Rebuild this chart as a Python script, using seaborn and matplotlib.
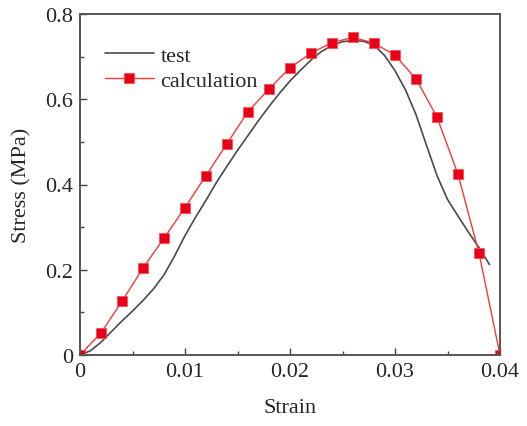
import matplotlib

matplotlib.use("Agg")

import matplotlib.pyplot as plt
import pandas as pd
import seaborn as sns
from matplotlib.ticker import MultipleLocator

test_strain = [0.000, 0.001, 0.002, 0.003, 0.004, 0.005, 0.006, 0.007, 0.008, 0.009,
               0.010, 0.011, 0.012, 0.013, 0.014, 0.015, 0.016, 0.017, 0.018, 0.019,
               0.020, 0.021, 0.022, 0.023, 0.024, 0.025, 0.026, 0.027, 0.028, 0.029,
               0.030, 0.031, 0.032, 0.033, 0.034, 0.035, 0.036, 0.037, 0.038, 0.039]
test_stress = [0.000, 0.010, 0.030, 0.055, 0.080, 0.103, 0.128, 0.155, 0.188, 0.232,
               0.280, 0.323, 0.363, 0.405, 0.443, 0.480, 0.515, 0.550, 0.583, 0.614,
               0.643, 0.668, 0.692, 0.712, 0.726, 0.735, 0.738, 0.736, 0.727, 0.703,
               0.667, 0.622, 0.564, 0.492, 0.421, 0.365, 0.326, 0.288, 0.252, 0.212]

# calculated curve
calc_strain = [0.000, 0.002, 0.004, 0.006, 0.008, 0.010, 0.012, 0.014, 0.016, 0.018, 0.020,
               0.022, 0.024, 0.026, 0.028, 0.030, 0.032, 0.034, 0.036, 0.038, 0.040]
calc_stress = [0.000, 0.052, 0.126, 0.204, 0.274, 0.346, 0.421, 0.496, 0.571, 0.624, 0.674,
               0.708, 0.733, 0.745, 0.732, 0.703, 0.648, 0.558, 0.424, 0.239, 0.000]

x_ticks = [0.0, 0.01, 0.02, 0.03, 0.04]
x_tick_labels = ["0", "0.01", "0.02", "0.03", "0.04"]
y_ticks = [0.0, 0.2, 0.4, 0.6, 0.8]
y_tick_labels = ["0", "0.2", "0.4", "0.6", "0.8"]

sns.set_style("ticks")
plt.rcParams["font.family"] = ["Liberation Serif", "DejaVu Serif"]
plt.rcParams["xtick.direction"] = "in"
plt.rcParams["ytick.direction"] = "in"

test_df = pd.DataFrame({"strain": test_strain, "stress": test_stress})
calc_df = pd.DataFrame({"strain": calc_strain, "stress": calc_stress})

fig = plt.figure(figsize=(5.27, 4.27), dpi=100)
ax = fig.add_axes([80 / 527, 1 - 356 / 427, 420 / 527, 341 / 427])

sns.lineplot(data=test_df, x="strain", y="stress", ax=ax, color="#4a4a4a",
             linewidth=1.2, label="test", estimator=None, sort=False)
sns.lineplot(data=calc_df, x="strain", y="stress", ax=ax, color="#f03a3a",
             linewidth=1.0, marker="s", markersize=7, markerfacecolor="#e8001a",
             markeredgecolor="#ff5050", markeredgewidth=0.6, label="calculation",
             estimator=None, sort=False)

ax.set_xlim(0, 0.04)
ax.set_ylim(0, 0.8)
ax.set_xticks(x_ticks, x_tick_labels)
ax.set_yticks(y_ticks, y_tick_labels)
ax.xaxis.set_minor_locator(MultipleLocator(0.005))
ax.yaxis.set_minor_locator(MultipleLocator(0.1))
ax.tick_params(which="major", length=5, width=1.0, color="#444444", labelsize=16, pad=5)
ax.tick_params(which="minor", length=3, width=1.0, color="#444444")

for spine in ax.spines.values():
    spine.set_linewidth(1.4)
    spine.set_color("#555555")

ax.set_xlabel("Strain", fontsize=16, labelpad=12)
ax.set_ylabel("Stress (MPa)", fontsize=16, labelpad=10)

ax.legend(loc="upper left", bbox_to_anchor=(0.038, 0.935), frameon=False,
          fontsize=16, handlelength=2.2, handletextpad=0.3, labelspacing=0.2,
          borderaxespad=0)

fig.savefig("out.png", dpi=100)
